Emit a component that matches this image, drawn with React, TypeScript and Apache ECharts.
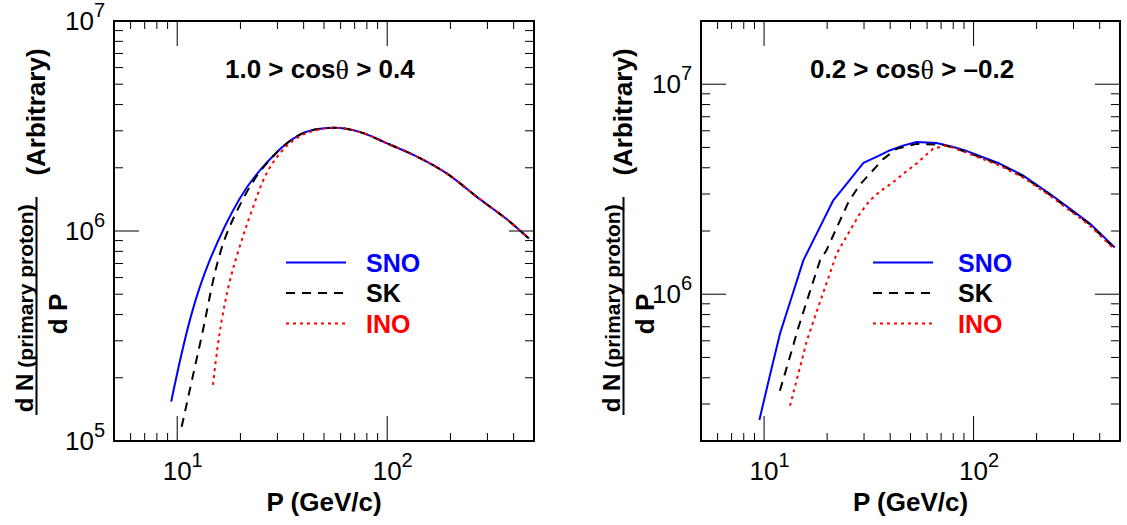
import React, { useEffect, useRef } from 'react';
import * as echarts from 'echarts';

const FONT = '"Liberation Sans", Arial, Helvetica, sans-serif';

// axis ranges
const xMin = 5;
const xMax = 500;
const yMinL = 1e5;
const yMaxL = 1e7;
const yMinR = 2e5;
const yMaxR = 2e7;

// tick values
const xMajorTicks = [10, 100];
const xMinorTicks = [6, 7, 8, 9, 20, 30, 40, 50, 60, 70, 80, 90, 200, 300, 400];
const yMajorTicksL = [1e6];
const yMinorTicksL = [2e5, 3e5, 4e5, 5e5, 6e5, 7e5, 8e5, 9e5, 2e6, 3e6, 4e6, 5e6, 6e6, 7e6, 8e6, 9e6];
const yMajorTicksR = [1e6, 1e7];
const yMinorTicksR = [3e5, 4e5, 5e5, 6e5, 7e5, 8e5, 9e5, 2e6, 3e6, 4e6, 5e6, 6e6, 7e6, 8e6, 9e6];

// texts
const seriesNames = ['SNO', 'SK', 'INO'];
const seriesColors = ['#0000ff', '#000000', '#ff0000'];
const titleLeft = '1.0 > cos{t|θ} > 0.4';
const titleRight = '0.2 > cos{t|θ} > –0.2';
const xTitle = 'P (GeV/c)';

// ---- left panel: 1.0 > cos(theta) > 0.4 ----
const snoL_P = [9.36, 11.6, 14.4, 19.7, 26.5, 38.2, 56.2, 75, 99.3, 140, 192, 278, 370, 473];
const snoL_V = [1.54e5, 3.9e5, 7.4e5, 1.41e6, 2.1e6, 2.87e6, 3.1e6, 2.95e6, 2.62e6, 2.25e6, 1.88e6, 1.41e6, 1.14e6, 9.2e5];

const skL_P = [10.5, 13.0, 16.1, 20.5, 26.5, 38.2, 56.2, 75, 99.3, 140, 192, 278, 370, 473];
const skL_V = [1.17e5, 3.07e5, 8.0e5, 1.41e6, 2.08e6, 2.87e6, 3.1e6, 2.95e6, 2.62e6, 2.25e6, 1.88e6, 1.41e6, 1.14e6, 9.2e5];

const inoL_P = [14.8, 15.5, 16.4, 17.7, 19.6, 22.4, 26.5, 31.8, 38.2, 46, 56.2, 75, 99.3, 140, 192, 278, 370, 473];
const inoL_V = [1.85e5, 2.71e5, 3.9e5, 5.64e5, 8.1e5, 1.21e6, 1.86e6, 2.43e6, 2.82e6, 3.02e6, 3.1e6, 2.95e6, 2.62e6, 2.25e6, 1.88e6, 1.41e6, 1.14e6, 9.2e5];

// ---- right panel: 0.2 > cos(theta) > -0.2 ----
const snoR_P = [9.5, 10.5, 11.9, 13.5, 15.4, 18, 21.4, 25, 29.8, 35, 40, 46, 53.5, 66.7, 80, 91, 110, 133, 172, 231, 300, 359, 472];
const snoR_V = [2.52e5, 3.85e5, 6.47e5, 9.6e5, 1.45e6, 1.98e6, 2.8e6, 3.39e6, 4.22e6, 4.55e6, 4.85e6, 5.1e6, 5.31e6, 5.25e6, 5.02e6, 4.84e6, 4.5e6, 4.19e6, 3.68e6, 3.01e6, 2.48e6, 2.17e6, 1.67e6];

const skR_P = [11.9, 13.2, 14.6, 16.5, 18.5, 19.8, 22.5, 25.3, 28.5, 32, 37, 43, 53.5, 71.6, 91, 133, 172, 231, 300, 359, 472];
const skR_V = [3.47e5, 4.93e5, 6.97e5, 1.02e6, 1.45e6, 1.61e6, 2.13e6, 2.75e6, 3.3e6, 3.75e6, 4.4e6, 4.93e6, 5.2e6, 5.15e6, 4.78e6, 4.15e6, 3.64e6, 2.98e6, 2.45e6, 2.15e6, 1.65e6];

const inoR_P = [13.3, 14.5, 16, 18, 20, 22.2, 25.7, 28.5, 32, 36, 41.4, 47, 53.5, 64.1, 74.3, 91, 133, 172, 231, 300, 359, 472];
const inoR_V = [2.94e5, 4.1e5, 6.0e5, 8.5e5, 1.15e6, 1.56e6, 2.01e6, 2.4e6, 2.8e6, 3.1e6, 3.42e6, 3.8e6, 4.19e6, 4.93e6, 5.12e6, 4.75e6, 4.1e6, 3.6e6, 2.95e6, 2.43e6, 2.12e6, 1.63e6];

const zip = (xs: number[], ys: number[]) => xs.map((x, i) => [x, ys[i]]);

const lineTypes: any[] = ['solid', [9, 7], [3, 4]];

function curve(grid: number, idx: number, P: number[], V: number[], smooth: number | boolean) {
  return {
    type: 'line',
    name: seriesNames[idx],
    xAxisIndex: grid,
    yAxisIndex: grid,
    data: zip(P, V),
    symbol: 'none',
    smooth,
    z: 3 + idx,
    color: seriesColors[idx],
    lineStyle: { color: seriesColors[idx], width: 2, type: lineTypes[idx] },
  };
}

function tickSeries(grid: number, axis: 'x' | 'y', values: number[], other: number, len: number) {
  return {
    type: 'custom',
    xAxisIndex: grid,
    yAxisIndex: grid,
    silent: true,
    z: 10,
    data: values.map((v) => (axis === 'x' ? [v, other] : [other, v])),
    renderItem: (params: any, api: any) => {
      const p = api.coord([api.value(0), api.value(1)]);
      const cs = params.coordSys;
      const st = { stroke: '#000', lineWidth: 1 };
      if (axis === 'x') {
        const b = cs.y + cs.height;
        const t = cs.y;
        return {
          type: 'group',
          children: [
            { type: 'line', shape: { x1: p[0], y1: b, x2: p[0], y2: b - len }, style: st },
            { type: 'line', shape: { x1: p[0], y1: t, x2: p[0], y2: t + len }, style: st },
          ],
        };
      }
      const l = cs.x;
      const r = cs.x + cs.width;
      return {
        type: 'group',
        children: [
          { type: 'line', shape: { x1: l, y1: p[1], x2: l + len, y2: p[1] }, style: st },
          { type: 'line', shape: { x1: r, y1: p[1], x2: r - len, y2: p[1] }, style: st },
        ],
      };
    },
  };
}

const powLabel = (pad: boolean) => (v: number) => {
  const lg = Math.log10(v);
  const e = Math.round(lg);
  if (Math.abs(lg - e) > 1e-6) return '';
  return (pad ? '{bp|10}' : '{b|10}') + '{s|' + e + '}';
};

const labelRich = {
  b: { fontSize: 26, lineHeight: 42, fontFamily: FONT, color: '#000' },
  bp: { fontSize: 26, lineHeight: 42, fontFamily: FONT, color: '#000', padding: [0, 0, 0, 11] },
  s: { fontSize: 20, lineHeight: 20, verticalAlign: 'top', fontFamily: FONT, color: '#000' },
};

function xAxisDef(grid: number) {
  return {
    type: 'log',
    logBase: 10,
    gridIndex: grid,
    min: xMin,
    max: xMax,
    axisLine: { show: false },
    axisTick: { show: false },
    splitLine: { show: false },
    minorTick: { show: false },
    axisLabel: { formatter: powLabel(true), rich: labelRich, margin: 9, showMinLabel: true, showMaxLabel: true },
    name: xTitle,
    nameLocation: 'middle',
    nameGap: 44,
    nameTextStyle: { fontSize: 26, fontWeight: 'bold', fontFamily: FONT, color: '#000' },
  };
}

function yAxisDef(grid: number, min: number, max: number) {
  return {
    type: 'log',
    logBase: 10,
    gridIndex: grid,
    min,
    max,
    axisLine: { show: false },
    axisTick: { show: false },
    splitLine: { show: false },
    minorTick: { show: false },
    axisLabel: { formatter: powLabel(false), rich: labelRich, margin: 9, showMinLabel: true, showMaxLabel: true },
  };
}

function yTitle(dx: number) {
  const bold = (size: number) => ({ fontSize: size, fontWeight: 'bold', fontFamily: FONT, fill: '#000', align: 'center', verticalAlign: 'middle' });
  return [
    { type: 'text', x: 36 + dx, y: 112, rotation: Math.PI / 2, style: { text: '(Arbitrary)', ...bold(26) } },
    { type: 'text', x: 24 + dx, y: 393, rotation: Math.PI / 2, style: { text: 'd N', ...bold(24) } },
    { type: 'text', x: 25 + dx, y: 286, rotation: Math.PI / 2, style: { text: '(primary proton)', ...bold(21) } },
    { type: 'line', shape: { x1: 36.5 + dx, y1: 197, x2: 36.5 + dx, y2: 415 }, style: { stroke: '#000', lineWidth: 2 } },
    { type: 'text', x: 58 + dx, y: 314, rotation: Math.PI / 2, style: { text: 'd P', ...bold(26) } },
  ];
}

function legendDef(left: number, gap: number) {
  return {
    left,
    top: 250,
    orient: 'vertical',
    padding: 0,
    itemWidth: 60,
    itemHeight: 14,
    itemGap: 5.5,
    selectedMode: false,
    itemStyle: { opacity: 0 },
    data: seriesNames.map((n, i) => ({ name: n, textStyle: { color: seriesColors[i] } })),
    textStyle: { fontSize: 25, fontWeight: 'bold', fontFamily: FONT, lineHeight: 24, padding: [0, 0, 0, gap] },
  };
}

const titleTextStyle = {
  fontSize: 26,
  fontWeight: 'bold',
  fontFamily: FONT,
  color: '#000',
  rich: { t: { fontSize: 28, fontWeight: 'normal', fontFamily: '"Liberation Serif", "DejaVu Serif", serif', color: '#000' } },
};

const option: any = {
  animation: false,
  backgroundColor: '#ffffff',
  textStyle: { fontFamily: FONT },
  title: [
    { text: titleLeft, left: 225, top: 55, padding: 0, textStyle: titleTextStyle },
    { text: titleRight, left: 810, top: 55, padding: 0, textStyle: titleTextStyle },
  ],
  legend: [legendDef(285, 15), legendDef(872, 20)],
  grid: [
    { left: 114, top: 21, width: 420, height: 420, show: true, borderColor: '#000', borderWidth: 2, backgroundColor: 'transparent', containLabel: false, outerBoundsMode: 'none' },
    { left: 701, top: 21, width: 419, height: 420, show: true, borderColor: '#000', borderWidth: 2, backgroundColor: 'transparent', containLabel: false, outerBoundsMode: 'none' },
  ],
  xAxis: [xAxisDef(0), xAxisDef(1)],
  yAxis: [yAxisDef(0, yMinL, yMaxL), yAxisDef(1, yMinR, yMaxR)],
  graphic: [...yTitle(0), ...yTitle(587)],
  series: [
    curve(0, 0, snoL_P, snoL_V, 0.35),
    curve(0, 1, skL_P, skL_V, 0.35),
    curve(0, 2, inoL_P, inoL_V, 0.35),
    curve(1, 0, snoR_P, snoR_V, false),
    curve(1, 1, skR_P, skR_V, false),
    curve(1, 2, inoR_P, inoR_V, false),
    tickSeries(0, 'x', xMajorTicks, yMinL, 25),
    tickSeries(0, 'x', xMinorTicks, yMinL, 8),
    tickSeries(0, 'y', yMajorTicksL, xMin, 25),
    tickSeries(0, 'y', yMinorTicksL, xMin, 9),
    tickSeries(1, 'x', xMajorTicks, yMinR, 25),
    tickSeries(1, 'x', xMinorTicks, yMinR, 8),
    tickSeries(1, 'y', yMajorTicksR, xMin, 25),
    tickSeries(1, 'y', yMinorTicksR, xMin, 9),
  ],
};

export default function App() {
  const ref = useRef<HTMLDivElement>(null);
  useEffect(() => {
    const chart = echarts.init(ref.current as HTMLDivElement, null, { renderer: 'svg' });
    chart.setOption(option);
    return () => chart.dispose();
  }, []);
  return (
    <div
      ref={ref}
      style={{ position: 'absolute', left: 0, top: 0, width: 1127, height: 525, background: '#fff' }}
    />
  );
}
